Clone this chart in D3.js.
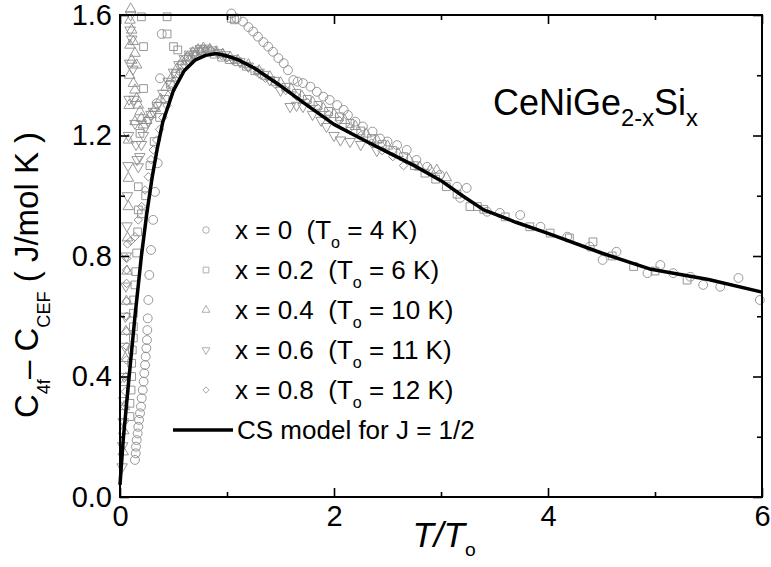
<!DOCTYPE html>
<html>
<head>
<meta charset="utf-8">
<script src="https://cdn.jsdelivr.net/npm/d3@7"></script>
<style>
body { margin: 0; background: #fff; }
svg { font-family: "Liberation Sans", Arial, sans-serif; }
text { white-space: pre; }
</style>
</head>
<body>
<div id="graphe"></div>
<script>
// Données : [T/To, C4f - CCEF (J/mol K)]
const serie_x0 = [
  [0.140,0.123],[0.147,0.145],[0.150,0.167],[0.156,0.189],[0.165,0.211],[0.171,0.233],[0.178,0.256],[0.187,0.278],
  [0.196,0.300],[0.203,0.328],[0.212,0.355],[0.221,0.383],[0.227,0.411],[0.234,0.438],[0.240,0.466],[0.246,0.494],
  [0.252,0.521],[0.255,0.554],[0.259,0.593],[0.265,0.654],[0.274,0.737],[0.290,0.820],[0.310,0.920],[0.327,1.013],
  [0.352,1.108],[0.343,1.307],[0.374,1.390],[0.390,1.537],
  [1.04,1.605],[1.09,1.589],[1.15,1.578],[1.20,1.560],[1.245,1.545],[1.29,1.528],[1.34,1.510],[1.385,1.495],
  [1.43,1.478],[1.48,1.457],[1.53,1.440],[1.57,1.417],[1.62,1.384],[1.66,1.379],[1.71,1.374],[1.78,1.362],
  [1.84,1.345],[1.90,1.329],[1.96,1.318],[2.03,1.301],[2.09,1.285],[2.13,1.268],[2.20,1.246],[2.27,1.230],
  [2.36,1.213],[2.43,1.190],[2.50,1.180],[2.59,1.168],[2.68,1.152],[2.77,1.119],[2.87,1.096],[2.99,1.069],
  [3.15,1.030],[3.18,0.993],[3.24,1.026],[3.43,0.947],[3.55,0.943],[3.74,0.936],[3.93,0.897],[4.18,0.864],
  [4.39,0.831],[4.51,0.787],[4.64,0.814],[4.93,0.743],[5.05,0.770],[5.17,0.743],[5.33,0.731],[5.45,0.704],
  [5.61,0.698],[5.78,0.727],[5.98,0.654]
];
const serie_x02 = [
  [0.093,0.267],[0.093,0.311],[0.103,0.355],[0.109,0.400],[0.109,0.444],[0.115,0.488],[0.125,0.528],[0.125,0.565],
  [0.125,0.610],[0.128,0.654],[0.140,0.704],[0.147,0.748],[0.156,0.810],[0.165,0.880],[0.171,0.953],[0.171,1.030],
  [0.187,1.207],
  [0.200,1.594],[0.220,1.495],[0.220,1.356],[0.440,1.594],[0.440,1.537],[0.500,1.495],[0.540,1.484],[1.04,1.589],[1.07,1.584],
  [0.20,0.94],[0.24,1.00],[0.28,1.10],[0.32,1.18],[0.37,1.26],[0.42,1.32],[0.47,1.37],[0.52,1.405],[0.58,1.435],
  [0.64,1.46],[0.70,1.47],[0.76,1.48],[0.82,1.478],[0.88,1.47],[0.95,1.46],[1.02,1.452],[1.10,1.445],[1.18,1.43],
  [1.26,1.415],[1.35,1.40],[1.45,1.38],[1.55,1.36],[1.65,1.34],[1.75,1.32],[1.85,1.30],[1.95,1.28],[2.05,1.262],
  [2.15,1.24],[2.25,1.215],[2.35,1.19],[2.45,1.17],[2.55,1.15],[2.65,1.13],[2.75,1.10],[2.85,1.075],[2.95,1.055],
  [3.05,1.03],[3.15,1.005],[3.27,0.964],[3.34,0.964],[3.40,0.955],[3.60,0.93],[3.83,0.897],[4.02,0.876],[4.20,0.86],
  [4.42,0.847],[4.60,0.80],[4.80,0.765],[5.00,0.75],[5.30,0.72]
];
const serie_x04 = [
  [0.030,0.15],[0.035,0.22],[0.040,0.30],[0.045,0.38],[0.050,0.46],[0.055,0.55],[0.060,0.65],[0.065,0.75],
  [0.070,0.86],[0.078,0.964],[0.078,1.058],[0.078,1.185],
  [0.085,1.30],[0.090,1.40],[0.093,1.50],[0.093,1.583],[0.100,1.62],[0.109,1.55],[0.125,1.512],[0.140,1.473],
  [0.109,1.45],[0.156,1.434],[0.125,1.373],[0.140,1.351],[0.156,1.323],[0.171,1.301],[0.187,1.279],[0.200,1.257],
  [0.140,1.246],[0.218,1.235],
  [0.25,1.25],[0.29,1.27],[0.33,1.29],[0.38,1.32],[0.43,1.36],[0.48,1.39],[0.53,1.42],[0.58,1.445],[0.63,1.46],
  [0.68,1.475],[0.73,1.485],[0.78,1.49],[0.84,1.486],[0.90,1.478],[0.96,1.47],[1.03,1.46],[1.10,1.45],[1.20,1.435],
  [1.30,1.415],[1.40,1.395],[1.50,1.375],[1.60,1.355],[1.70,1.33],[1.80,1.31],[1.90,1.29],[2.00,1.27],[2.10,1.25],
  [2.20,1.23],[2.30,1.205],[2.40,1.185],[2.50,1.165],[2.60,1.14],[2.70,1.12],[2.80,1.095],[2.90,1.085],[2.96,1.085],
  [3.05,1.06]
];
const serie_x06 = [
  [0.020,0.10],[0.025,0.17],[0.030,0.25],[0.035,0.32],[0.040,0.40],[0.045,0.50],[0.050,0.60],[0.055,0.70],
  [0.060,0.80],[0.065,0.90],[0.070,1.00],[0.075,1.10],
  [0.080,1.20],[0.085,1.32],[0.090,1.44],[0.095,1.55],[0.100,1.60],[0.110,1.52],[0.120,1.42],[0.130,1.32],
  [0.140,1.24],[0.150,1.17],[0.160,1.12],[0.171,1.096],[0.185,1.13],[0.200,1.17],[0.218,1.20],[0.240,1.23],
  [0.265,1.25],[0.290,1.27],[0.311,1.28],
  [0.35,1.30],[0.40,1.34],[0.45,1.38],[0.50,1.41],[0.55,1.435],[0.60,1.455],[0.65,1.47],[0.70,1.48],[0.75,1.488],
  [0.80,1.49],[0.86,1.484],[0.92,1.475],[0.98,1.468],[1.05,1.455],[1.12,1.445],[1.20,1.43],[1.30,1.41],[1.40,1.385],
  [1.50,1.35],[1.59,1.296],[1.65,1.30],[1.71,1.296],[1.80,1.27],[1.88,1.25],[1.93,1.23],[2.00,1.20],[2.06,1.185],
  [2.15,1.18],[2.25,1.17],[2.40,1.15]
];
const serie_x08 = [
  [0.040,0.25],[0.045,0.30],[0.050,0.35],[0.055,0.40],[0.060,0.455],[0.062,0.50],[0.062,0.55],[0.062,0.60],
  [0.062,0.65],[0.062,0.709],[0.062,0.754],[0.062,0.792],[0.070,0.84],
  [0.100,0.85],[0.140,0.864],[0.171,0.92],[0.203,0.964],[0.234,1.019],[0.265,1.063],[0.290,1.12],[0.311,1.152],
  [0.343,1.185],[0.37,1.22],[0.40,1.26],[0.44,1.30],[0.48,1.35],[0.52,1.385],[0.56,1.41],[0.60,1.435],[0.65,1.455],
  [0.70,1.47],[0.75,1.48],[0.80,1.485],[0.85,1.483],[0.90,1.475],[0.95,1.465],[1.00,1.458],[1.06,1.45],[1.13,1.44],
  [1.20,1.425],[1.28,1.41],[1.36,1.39],[1.45,1.37],[1.55,1.35],[1.65,1.33],[1.75,1.31],[1.85,1.29],[1.95,1.27],
  [2.05,1.25],[2.15,1.225],[2.25,1.20],[2.35,1.175],[2.45,1.15],[2.55,1.13],[2.65,1.10]
];
// Modèle de Coqblin-Schrieffer pour J = 1/2
const modele_cs = [
  [0.0,0.04],[0.03,0.19],[0.08,0.38],[0.14,0.6],[0.2,0.8],[0.25,0.94],[0.3,1.06],[0.35,1.16],[0.4,1.245],[0.5,1.35],
  [0.6,1.415],[0.7,1.45],[0.8,1.466],[0.9,1.472],[1.0,1.464],[1.1,1.452],[1.25,1.425],[1.5,1.365],[1.75,1.3],
  [2.0,1.237],[2.25,1.19],[2.5,1.145],[2.75,1.1],[3.0,1.05],[3.2,1.0],[3.4,0.953],[3.7,0.912],[4.0,0.875],
  [4.5,0.81],[4.95,0.757],[5.5,0.722],[6.0,0.68]
];
const legende_x = ["0", "0.2", "0.4", "0.6", "0.8"];
const legende_To = ["4", "6", "10", "11", "12"];
const ticks_x = [0, 2, 4, 6];
const ticks_x_mineurs = [1, 3, 5];
const ticks_y = [0, 0.4, 0.8, 1.2, 1.6];
const ticks_y_mineurs = [0.2, 0.6, 1.0, 1.4];

const largeur = 771, hauteur = 567;
const gris = "#8c8c8c";

const svg = d3.select("#graphe").append("svg")
  .attr("width", largeur).attr("height", hauteur);

const x = d3.scaleLinear().domain([0, 6]).range([120, 762]);
const y = d3.scaleLinear().domain([0, 1.6]).range([497, 15]);

// Formes des symboles, une par série
const formes = [
  {type: d3.symbolCircle, taille: 62, rot: 0},
  {type: d3.symbolSquare, taille: 60, rot: 0},
  {type: d3.symbolTriangle, taille: 48, rot: 0},
  {type: d3.symbolTriangle, taille: 48, rot: 180},
  {type: d3.symbolSquare, taille: 36, rot: 45}
];
const series = [serie_x0, serie_x02, serie_x04, serie_x06, serie_x08];

series.forEach((serie, i) => {
  const f = formes[i];
  svg.append("g").selectAll("path").data(serie).join("path")
    .attr("d", d3.symbol().type(f.type).size(f.taille))
    .attr("transform", d => `translate(${x(d[0])},${y(d[1])}) rotate(${f.rot})`)
    .attr("fill", "none").attr("stroke", gris).attr("stroke-width", 0.9);
});

svg.append("path").datum(modele_cs)
  .attr("d", d3.line().x(d => x(d[0])).y(d => y(d[1])))
  .attr("fill", "none").attr("stroke", "black").attr("stroke-width", 3.5)
  .attr("stroke-linejoin", "round");

// Axes (ticks vers l'intérieur sur les quatre côtés)
function axe(g, generateur) {
  g.call(generateur);
  g.select(".domain").remove();
  g.selectAll("line").attr("stroke", "black").attr("stroke-width", 1.6);
}
const tl = 9, tm = 5;
axe(svg.append("g").attr("transform", "translate(0,497)"),
  d3.axisBottom(x).tickValues(ticks_x).tickSize(-tl).tickPadding(8).tickFormat(d3.format("d")));
axe(svg.append("g").attr("transform", "translate(0,497)"),
  d3.axisBottom(x).tickValues(ticks_x_mineurs).tickSize(-tm).tickFormat(""));
axe(svg.append("g").attr("transform", "translate(0,15)"),
  d3.axisTop(x).tickValues(ticks_x).tickSize(-tl).tickFormat(""));
axe(svg.append("g").attr("transform", "translate(0,15)"),
  d3.axisTop(x).tickValues(ticks_x_mineurs).tickSize(-tm).tickFormat(""));
axe(svg.append("g").attr("transform", "translate(120,0)"),
  d3.axisLeft(y).tickValues(ticks_y).tickSize(-tl).tickPadding(8).tickFormat(d3.format(".1f")));
axe(svg.append("g").attr("transform", "translate(120,0)"),
  d3.axisLeft(y).tickValues(ticks_y_mineurs).tickSize(-tm).tickFormat(""));
axe(svg.append("g").attr("transform", "translate(762,0)"),
  d3.axisRight(y).tickValues(ticks_y).tickSize(-tl).tickFormat(""));
axe(svg.append("g").attr("transform", "translate(762,0)"),
  d3.axisRight(y).tickValues(ticks_y_mineurs).tickSize(-tm).tickFormat(""));

svg.selectAll(".tick text").attr("font-size", 29).attr("fill", "black")
  .attr("font-family", "'Liberation Sans', Arial, sans-serif");

svg.append("rect").attr("x", 120).attr("y", 15).attr("width", 642).attr("height", 482)
  .attr("fill", "none").attr("stroke", "black").attr("stroke-width", 2);

// Texte avec indices : morceaux [texte, indice?, style]
function ecrire(t, morceaux, taille, decalage, rapport = 0.66) {
  let bas = false;
  morceaux.forEach(([s, ind, style]) => {
    const ts = t.append("tspan").text(s);
    if (style) ts.attr("font-style", style);
    if (ind) {
      ts.attr("font-size", taille * rapport);
      if (!bas) { ts.attr("dy", decalage); bas = true; }
    } else if (bas) {
      ts.attr("dy", -decalage); bas = false;
    }
  });
}

// Titre du composé
ecrire(svg.append("text").attr("x", 493).attr("y", 115).attr("font-size", 36),
  [["CeNiGe"], ["2-x", true], ["Si"], ["x", true]], 36, 11);

// Légende
legende_x.forEach((v, i) => {
  const yc = 230 + 40 * i;
  const f = formes[i];
  svg.append("path")
    .attr("d", d3.symbol().type(f.type).size(f.taille * 0.55))
    .attr("transform", `translate(206,${yc}) rotate(${f.rot})`)
    .attr("fill", "none").attr("stroke", "#999").attr("stroke-width", 0.8);
  ecrire(svg.append("text").attr("x", 235).attr("y", yc + 9).attr("font-size", 26),
    [["x = " + v + "  (T"], ["o", true], [" = " + legende_To[i] + " K)"]], 26, 9, 0.62);
});
svg.append("line").attr("x1", 173).attr("x2", 233).attr("y1", 430).attr("y2", 430)
  .attr("stroke", "black").attr("stroke-width", 3.5);
svg.append("text").attr("x", 237).attr("y", 439).attr("font-size", 26).text("CS model for J = 1/2");

// Titres des axes
ecrire(svg.append("text").attr("x", 444).attr("y", 547).attr("font-size", 35).attr("text-anchor", "middle"),
  [["T/T", false, "italic"], ["o", true]], 35, 9, 0.55);

ecrire(svg.append("text").attr("transform", "translate(38,275) rotate(-90)")
    .attr("font-size", 33).attr("text-anchor", "middle"),
  [["C"], ["4f", true], ["– "], ["C"], ["CEF", true], [" ( J/mol K )"]], 33, 12, 0.55);
</script>
</body>
</html>
